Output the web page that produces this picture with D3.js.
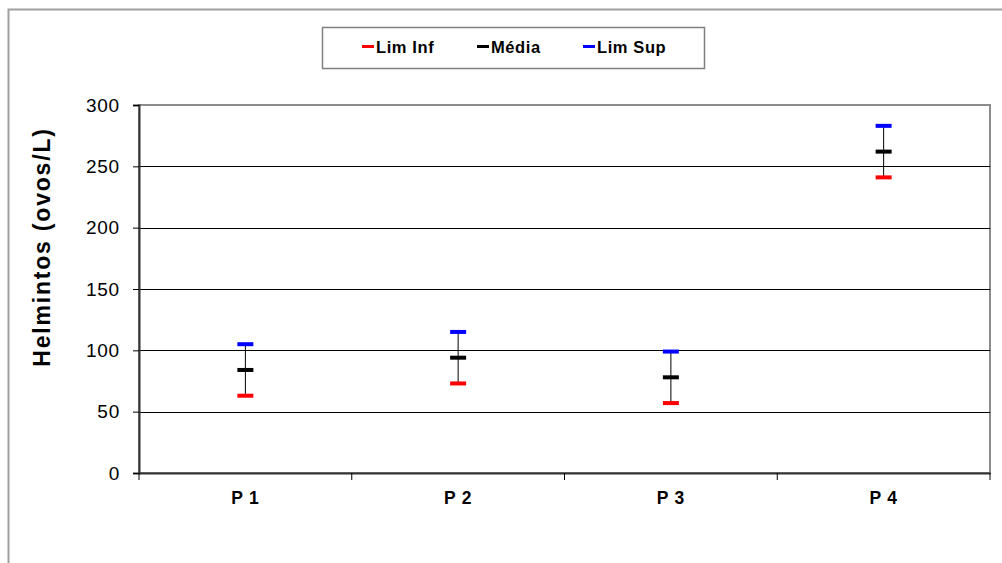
<!DOCTYPE html>
<html>
<head>
<meta charset="utf-8">
<script src="https://cdnjs.cloudflare.com/ajax/libs/d3/7.8.5/d3.min.js"></script>
<style>
  body { margin: 0; background: #fff; }
  svg { display: block; font-family: "Liberation Sans", Arial, sans-serif; }
</style>
</head>
<body>
<div id="container"></div>
<script>
// data
var categories = ["P 1", "P 2", "P 3", "P 4"];
var limInf = [63, 73, 57, 241];
var media = [84, 94, 78, 262];
var limSup = [105, 115, 99, 283];
var yTicks = [0, 50, 100, 150, 200, 250, 300];

var W = 1002, H = 563;
var margin = { top: 105, right: 12, bottom: 90, left: 139 },
  width = 990 - margin.left,
  height = 473 - margin.top;

var svg = d3.select("#container")
  .append("svg")
  .attr("width", W)
  .attr("height", H);

// outer chart border (runs off the right/bottom of the picture)
svg.append("rect")
  .attr("x", 8.5).attr("y", 9.5)
  .attr("width", 1100).attr("height", 700)
  .attr("fill", "none")
  .attr("stroke", "#a0a0a0")
  .attr("stroke-width", 2);

var g = svg.append("g")
  .attr("transform", "translate(" + margin.left + "," + margin.top + ")");

// scales
var x = d3.scaleBand().domain(categories).range([0, width]);
var y = d3.scaleLinear().domain([0, 300]).range([height, 0]);

// plot area border (gray)
g.append("rect")
  .attr("x", 0).attr("y", 0)
  .attr("width", width).attr("height", height)
  .attr("fill", "none")
  .attr("stroke", "#8c8c8c")
  .attr("stroke-width", 2);

// gridlines
g.selectAll(".grid")
  .data(yTicks.filter(function (d) { return d > 0 && d < 300; }))
  .enter().append("line")
  .attr("class", "grid")
  .attr("x1", 0).attr("x2", width)
  .attr("y1", function (d) { return Math.round(y(d)) + 0.5; })
  .attr("y2", function (d) { return Math.round(y(d)) + 0.5; })
  .attr("stroke", "#000")
  .attr("stroke-width", 1);

// Y axis
var yAxis = d3.axisLeft(y).tickValues(yTicks).tickSize(6).tickPadding(13);
var ya = g.append("g").attr("class", "y axis").call(yAxis);
ya.select(".domain").attr("stroke", "#333").attr("stroke-width", 2);
ya.selectAll(".tick line").attr("stroke", "#000");
ya.selectAll("text")
  .attr("font-size", 19)
  .attr("letter-spacing", 0.8)
  .attr("fill", "#000");

// X axis
var xAxis = d3.axisBottom(x).tickSize(0).tickPadding(19);
var xa = g.append("g")
  .attr("class", "x axis")
  .attr("transform", "translate(0," + height + ")")
  .call(xAxis);
xa.select(".domain").attr("stroke", "#333").attr("stroke-width", 2);
xa.selectAll("text")
  .attr("font-size", 17.5)
  .attr("font-weight", "bold")
  .attr("letter-spacing", 0.8)
  .attr("fill", "#000");
// category boundary ticks
xa.selectAll(".sep")
  .data(d3.range(categories.length + 1))
  .enter().append("line")
  .attr("class", "sep")
  .attr("x1", function (i) { return i * x.step(); })
  .attr("x2", function (i) { return i * x.step(); })
  .attr("y1", 0).attr("y2", 7)
  .attr("stroke", "#000");

// axis title
svg.append("text")
  .attr("transform", "translate(50,247) rotate(-90)")
  .attr("text-anchor", "middle")
  .attr("font-size", 23)
  .attr("font-weight", "bold")
  .attr("letter-spacing", 1.8)
  .text("Helmintos (ovos/L)");

// error bars
var rows = categories.map(function (c, i) {
  return { cat: c, lo: limInf[i], mid: media[i], hi: limSup[i] };
});
var cx = function (d) { return x(d.cat) + x.bandwidth() / 2; };

g.selectAll(".whisker")
  .data(rows)
  .enter().append("line")
  .attr("class", "whisker")
  .attr("x1", cx).attr("x2", cx)
  .attr("y1", function (d) { return y(d.lo); })
  .attr("y2", function (d) { return y(d.hi); })
  .attr("stroke", "#000")
  .attr("stroke-width", 1);

var series = [
  { key: "lo", name: "Lim Inf", color: "#ff0000" },
  { key: "mid", name: "Média", color: "#000000" },
  { key: "hi", name: "Lim Sup", color: "#0000ff" }
];

series.forEach(function (s) {
  g.selectAll(".cap-" + s.key)
    .data(rows)
    .enter().append("rect")
    .attr("class", "cap-" + s.key)
    .attr("x", function (d) { return cx(d) - 8; })
    .attr("y", function (d) { return y(d[s.key]) - 2; })
    .attr("width", 16)
    .attr("height", 4)
    .attr("fill", s.color);
});

// legend
var legend = svg.append("g");
legend.append("rect")
  .attr("x", 322.5).attr("y", 27.5)
  .attr("width", 382).attr("height", 41)
  .attr("fill", "#fff")
  .attr("stroke", "#808080")
  .attr("stroke-width", 1.5);

var legendX = [362, 477, 583];
series.forEach(function (s, i) {
  legend.append("rect")
    .attr("x", legendX[i]).attr("y", 45)
    .attr("width", 12).attr("height", 3)
    .attr("fill", s.color);
  legend.append("text")
    .attr("x", legendX[i] + 14).attr("y", 53)
    .attr("font-size", 16.5)
    .attr("font-weight", "bold")
    .attr("letter-spacing", 0.6)
    .text(s.name);
});
</script>
</body>
</html>
